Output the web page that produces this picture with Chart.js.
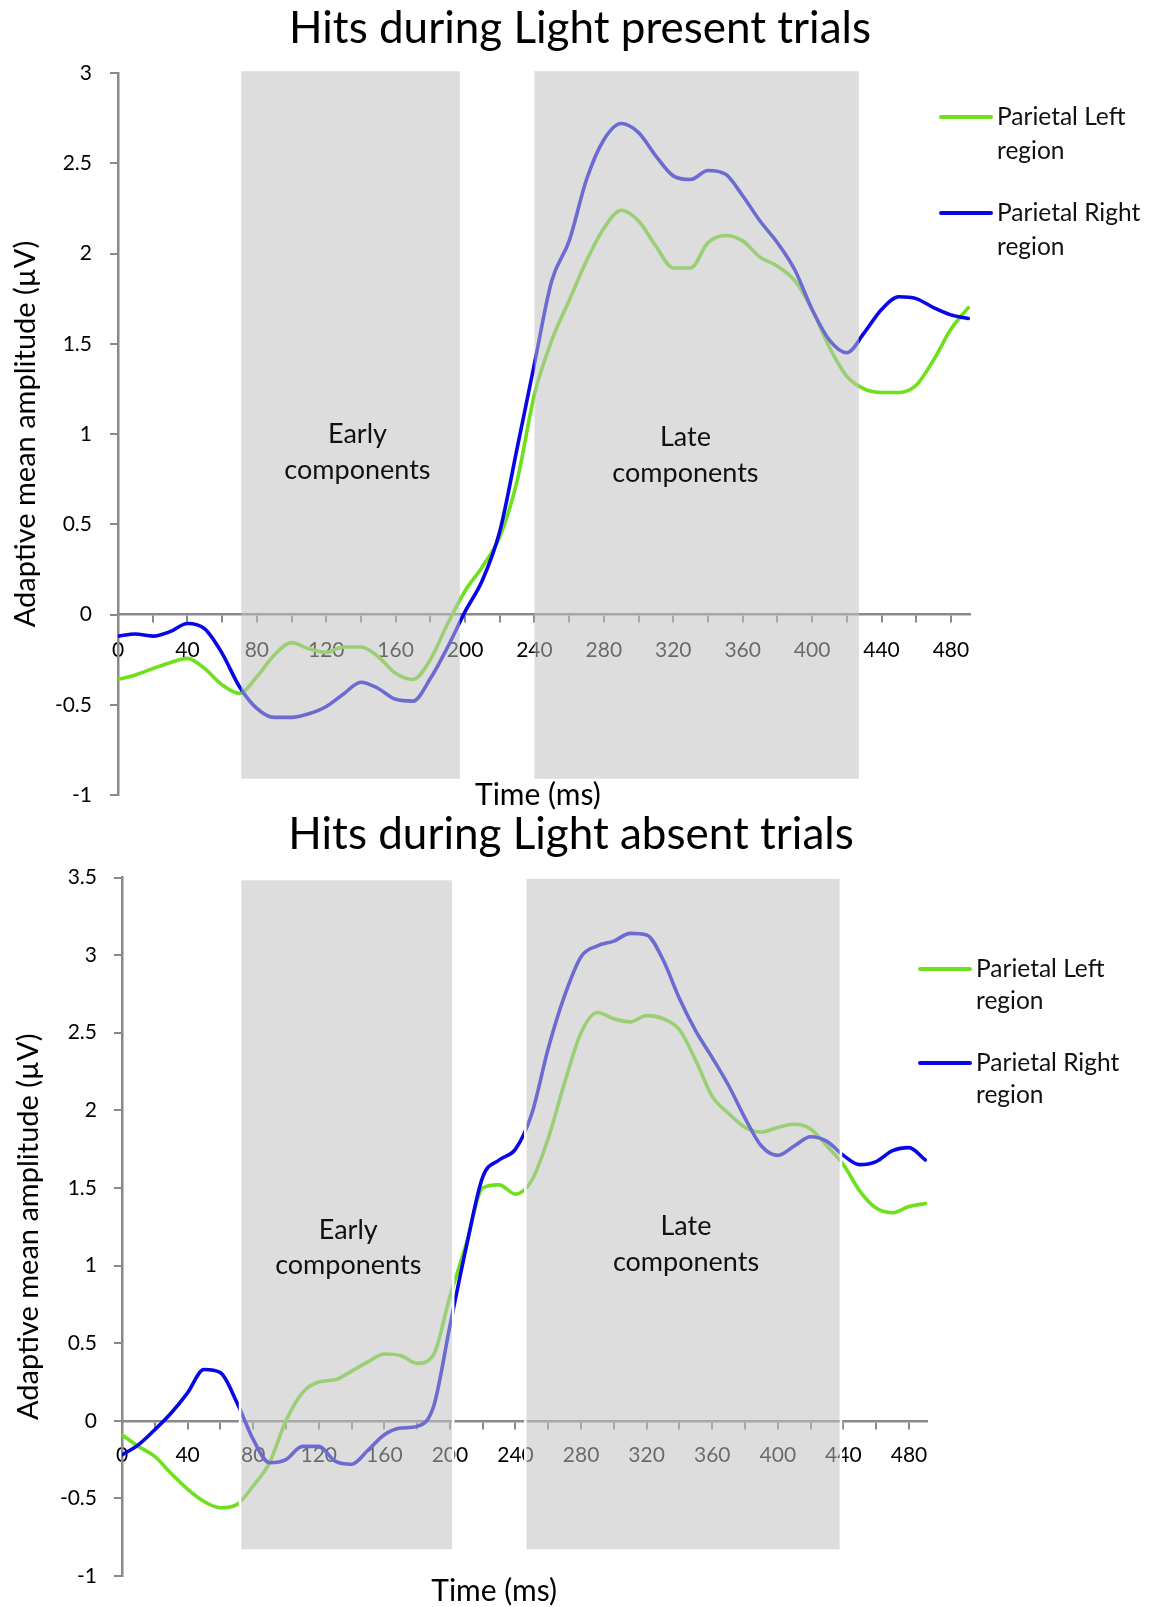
<!DOCTYPE html>
<html>
<head>
<meta charset="utf-8">
<title>Hits during Light present / absent trials</title>
<script src="https://cdn.jsdelivr.net/npm/chart.js@4.4.1/dist/chart.umd.min.js"></script>
<style>
  body { margin: 0; background: #fff; }
  #wrap { position: relative; width: 1159px; height: 1607px; }
  #presentChart { position: absolute; left: 0; top: 0; }
  #absentChart { position: absolute; left: 0; top: 812px; }
</style>
</head>
<body>
<div id="wrap">
  <canvas id="presentChart" width="1159" height="826"></canvas>
  <canvas id="absentChart" width="1159" height="795"></canvas>
</div>
<script>
// time axis (ms), one sample every 10 ms
const timesMs = [0,10,20,30,40,50,60,70,80,90,100,110,120,130,140,150,160,170,180,190,
  200,210,220,230,240,250,260,270,280,290,300,310,320,330,340,350,360,370,380,390,
  400,410,420,430,440,450,460,470,480,490];

const xTickMarks = [0,20,40,60,80,100,120,140,160,180,200,220,240,260,280,300,320,340,360,380,400,420,440,460,480];
const xTickLabels = [0,40,80,120,160,200,240,280,320,360,400,440,480];
const seriesNames = ['Parietal Left region', 'Parietal Right region'];

// Light present trials
const presentLeft = [-0.36,-0.335,-0.30,-0.267,-0.243,-0.30,-0.39,-0.437,-0.345,-0.225,
  -0.156,-0.19,-0.21,-0.18,-0.18,-0.234,-0.326,-0.36,-0.25,-0.05,
  0.13,0.265,0.43,0.74,1.22,1.52,1.74,1.96,2.14,2.24,
  2.18,2.04,1.92,1.92,2.06,2.10,2.07,1.98,1.93,1.85,
  1.69,1.48,1.32,1.25,1.23,1.23,1.27,1.41,1.58,1.70];
const presentRight = [-0.12,-0.108,-0.12,-0.095,-0.05,-0.08,-0.215,-0.40,-0.52,-0.57,
  -0.57,-0.55,-0.51,-0.44,-0.375,-0.41,-0.47,-0.48,-0.355,-0.18,
  0.016,0.19,0.46,0.92,1.39,1.85,2.07,2.41,2.63,2.72,
  2.67,2.54,2.43,2.41,2.46,2.44,2.32,2.18,2.06,1.91,
  1.69,1.52,1.45,1.56,1.69,1.76,1.75,1.70,1.66,1.64];

// Light absent trials
const absentLeft = [-0.09,-0.165,-0.23,-0.34,-0.44,-0.52,-0.56,-0.54,-0.42,-0.27,
  0.0,0.18,0.25,0.264,0.32,0.38,0.43,0.42,0.37,0.425,
  0.80,1.14,1.50,1.52,1.46,1.55,1.82,2.18,2.50,2.63,
  2.59,2.57,2.61,2.59,2.52,2.32,2.09,1.98,1.89,1.86,
  1.89,1.91,1.88,1.77,1.65,1.48,1.37,1.34,1.38,1.40];
const absentRight = [-0.22,-0.155,-0.058,0.05,0.18,0.33,0.31,0.12,-0.12,-0.27,
  -0.25,-0.165,-0.165,-0.26,-0.28,-0.19,-0.09,-0.047,-0.036,0.09,
  0.61,1.12,1.57,1.68,1.75,1.98,2.40,2.74,2.99,3.06,
  3.09,3.14,3.13,2.97,2.72,2.51,2.34,2.16,1.95,1.77,
  1.71,1.77,1.83,1.80,1.71,1.65,1.67,1.74,1.76,1.68];

// analysis windows [from ms, to ms]
const presentEarly = [71, 197];
const presentLate = [240, 427];
const absentEarly = [72, 202];
const absentLate = [246, 438.5];

const FONT = 'Lato';
const GREEN = '#6ee01c';
const BLUE = '#0606e6';
const AXIS = '#898989';

function toPoints(vals) {
  return timesMs.map((t, i) => ({ x: t, y: vals[i] }));
}

// title, grey windows, their labels, x title and legend (drawn over the lines)
const overlayPlugin = {
  id: 'overlay',
  afterDatasetsDraw(chart, args, opts) {
    const { ctx } = chart;
    const xs = chart.scales.x, ys = chart.scales.y;
    ctx.save();
    opts.windows.forEach(w => {
      const l = xs.getPixelForValue(w.range[0]);
      const r = xs.getPixelForValue(w.range[1]);
      const t = ys.getPixelForValue(w.yTop);
      const b = ys.getPixelForValue(w.yBottom);
      ctx.fillStyle = 'rgba(192,192,192,0.545)';
      ctx.fillRect(l, t, r - l, b - t);
      if (opts.outline) {
        ctx.strokeStyle = '#fff';
        ctx.lineWidth = 2.5;
        ctx.strokeRect(l, t, r - l, b - t);
      }
    });
    ctx.fillStyle = '#111';
    ctx.textAlign = 'center';
    ctx.textBaseline = 'middle';
    ctx.font = '27px ' + FONT;
    opts.windows.forEach(w => {
      const cx = xs.getPixelForValue(w.labelX);
      ctx.fillText(w.text[0], cx, ys.getPixelForValue(w.labelY[0]));
      ctx.fillText(w.text[1], cx, ys.getPixelForValue(w.labelY[1]));
    });

    // chart title
    ctx.fillStyle = '#000';
    ctx.font = '44px ' + FONT;
    ctx.fillText(opts.title, opts.titleX, opts.titleY);

    // x axis title
    ctx.font = '30px ' + FONT;
    ctx.fillText('Time (ms)', xs.getPixelForValue(opts.xTitleAt), chart.chartArea.bottom + opts.xTitleDy);

    // legend
    const lg = opts.legend;
    ctx.font = '24.5px ' + FONT;
    ctx.textAlign = 'left';
    [GREEN, BLUE].forEach((c, i) => {
      const y0 = lg.y + i * lg.gap;
      ctx.strokeStyle = c;
      ctx.lineWidth = 4;
      ctx.lineCap = 'round';
      ctx.beginPath();
      ctx.moveTo(lg.x, y0);
      ctx.lineTo(lg.x + 50, y0);
      ctx.stroke();
      const parts = seriesNames[i].split(' ');
      ctx.fillStyle = '#111';
      ctx.fillText(parts[0] + ' ' + parts[1], lg.x + 56, y0);
      ctx.fillText(parts[2], lg.x + 56, y0 + lg.lineGap);
    });
    ctx.restore();
  }
};

function makeChart(id, left, right, yMin, yMax, cfg) {
  return new Chart(document.getElementById(id), {
    type: 'line',
    data: {
      datasets: [
        { label: seriesNames[0], data: toPoints(left), borderColor: GREEN, order: 2 },
        { label: seriesNames[1], data: toPoints(right), borderColor: BLUE, order: 1 }
      ]
    },
    options: {
      responsive: false,
      animation: false,
      devicePixelRatio: 1,
      elements: {
        point: { radius: 0 },
        line: { borderWidth: 3.6, cubicInterpolationMode: 'monotone', borderCapStyle: 'round' }
      },
      layout: { padding: { left: 0, right: cfg.padRight, top: cfg.padTop, bottom: cfg.padBottom } },
      plugins: {
        legend: { display: false },
        tooltip: { enabled: false },
        title: { display: false },
        overlay: cfg.overlay
      },
      scales: {
        x: {
          type: 'linear',
          position: { y: 0 },
          min: 0,
          max: cfg.xMax,
          afterBuildTicks: s => { s.ticks = xTickMarks.map(v => ({ value: v })); },
          ticks: {
            autoSkip: false,
            maxRotation: 0,
            padding: cfg.xTickPad,
            color: '#000',
            font: { family: FONT, size: 21 },
            callback: v => xTickLabels.includes(v) ? String(v) : ''
          },
          grid: { drawOnChartArea: false, drawTicks: true, tickLength: 7, color: AXIS, lineWidth: 2 },
          border: { display: true, color: AXIS, width: 2.5 }
        },
        y: {
          min: yMin,
          max: yMax,
          afterFit: s => { s.width = cfg.yWidth; },
          ticks: {
            stepSize: 0.5,
            padding: cfg.yTickPad,
            color: '#000',
            font: { family: FONT, size: 21 },
            callback: v => String(v)
          },
          grid: { drawOnChartArea: false, drawTicks: true, tickLength: 8, color: AXIS, lineWidth: 2 },
          border: { display: true, color: AXIS, width: 2.5 },
          title: {
            display: true,
            text: 'Adaptive mean amplitude (µV)',
            color: '#000',
            font: { family: FONT, size: 29 },
            padding: { top: cfg.yTitlePad, bottom: 0 }
          }
        }
      }
    },
    plugins: [overlayPlugin]
  });
}

makeChart('presentChart', presentLeft, presentRight, -1, 3, {
  xMax: 491,
  padTop: 73,
  padRight: 189,
  padBottom: 31,
  yWidth: 118,
  yTickPad: 18,
  yTitlePad: 8,
  xTickPad: 16,
  overlay: {
    title: 'Hits during Light present trials',
    titleX: 580,
    titleY: 29,
    outline: false,
    windows: [
      { range: presentEarly, yTop: 3.01, yBottom: -0.91, text: ['Early', 'components'], labelX: 138, labelY: [1.0, 0.8] },
      { range: presentLate, yTop: 3.01, yBottom: -0.91, text: ['Late', 'components'], labelX: 327, labelY: [0.98, 0.78] }
    ],
    xTitleAt: 242,
    xTitleDy: 0,
    legend: { x: 941, y: 117, gap: 96, lineGap: 34 }
  }
});

makeChart('absentChart', absentLeft, absentRight, -1, 3.5, {
  xMax: 491,
  padTop: 65.5,
  padRight: 232,
  padBottom: 31,
  yWidth: 122,
  yTickPad: 17,
  yTitlePad: 11,
  xTickPad: 15,
  overlay: {
    title: 'Hits during Light absent trials',
    titleX: 571,
    titleY: 23,
    outline: true,
    windows: [
      { range: absentEarly, yTop: 3.49, yBottom: -0.836, text: ['Early', 'components'], labelX: 138, labelY: [1.23, 1.0] },
      { range: absentLate, yTop: 3.5, yBottom: -0.836, text: ['Late', 'components'], labelX: 344, labelY: [1.25, 1.02] }
    ],
    xTitleAt: 227,
    xTitleDy: 15,
    legend: { x: 920, y: 157, gap: 94, lineGap: 32 }
  }
});
</script>
</body>
</html>
